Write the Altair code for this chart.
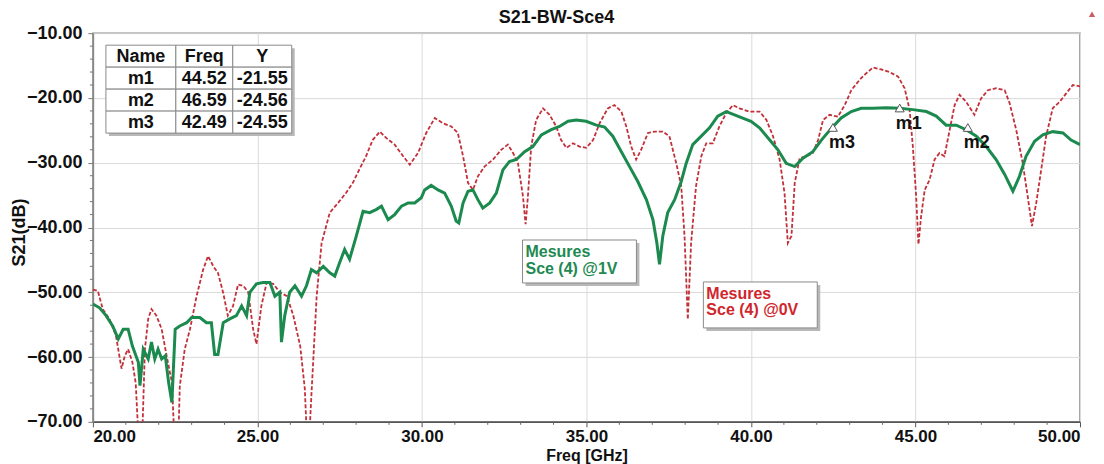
import altair as alt
import pandas as pd

# ---------------- data ----------------
red_freq = [20.0,20.15,20.3,20.5,20.7,20.87,20.97,21.07,21.2,21.3,21.38,21.5,21.58,21.68,21.78,21.93,22.09,22.24,22.4,22.47,22.6,22.64,22.79,22.95,23.15,23.35,23.5,23.66,23.8,23.96,24.1,24.26,24.41,24.57,24.72,24.87,24.97,25.12,25.28,25.48,25.68,25.9,26.09,26.3,26.44,26.5,26.58,26.64,26.8,26.95,27.2,27.45,27.7,27.9,28.1,28.3,28.5,28.72,28.92,29.17,29.43,29.63,29.88,30.13,30.39,30.64,30.89,31.09,31.25,31.4,31.55,31.7,31.9,32.16,32.41,32.61,32.77,32.92,33.07,33.15,33.22,33.32,33.47,33.68,33.88,34.08,34.23,34.39,34.59,34.79,34.99,35.2,35.4,35.65,35.85,36.06,36.21,36.36,36.51,36.66,36.87,37.07,37.32,37.52,37.73,37.88,37.98,38.08,38.18,38.33,38.49,38.64,38.84,39.04,39.24,39.45,39.65,39.95,40.26,40.47,40.67,40.87,41.02,41.12,41.23,41.33,41.48,41.68,41.88,42.04,42.19,42.39,42.64,42.85,43.05,43.3,43.5,43.71,43.96,44.21,44.47,44.67,44.82,44.92,45.02,45.09,45.17,45.28,45.43,45.58,45.73,45.88,46.04,46.19,46.34,46.54,46.79,46.99,47.2,47.45,47.71,47.86,48.06,48.26,48.41,48.54,48.67,48.82,48.97,49.17,49.38,49.58,49.78,50.0]
red_s21 = [-49.6,-49.8,-52.6,-54.1,-56.7,-61.8,-59.8,-58.8,-60.8,-64,-72,-72,-58.8,-54.1,-52.6,-53.6,-55.7,-59.8,-63.9,-72,-72,-64.5,-58.8,-55.7,-50.6,-46.5,-44.4,-46,-47,-50.1,-53.6,-52.1,-48.8,-49,-50,-55.7,-58,-52.1,-48.5,-48.7,-50.0,-50.6,-53.6,-58.3,-64.9,-72,-72,-65.9,-50.6,-42.4,-37.7,-36.2,-34.6,-33.1,-31,-29,-26.5,-25.2,-26.2,-27.2,-29,-30.3,-28.5,-25.4,-23.1,-23.9,-24.4,-25.4,-29,-33.1,-34.2,-32.1,-30.6,-29.5,-28,-27.2,-28.5,-30.1,-35.2,-39.5,-35.2,-27.5,-23.4,-21.6,-22.6,-24.4,-26.5,-27.7,-27,-27.5,-27.7,-26.5,-23.9,-21.6,-21.1,-22.1,-24.4,-27.5,-29.5,-28,-25.4,-25.2,-25.2,-25.9,-30.1,-33.6,-41.3,-54.2,-42.4,-33.6,-29,-27,-27,-24.4,-22.4,-21.1,-21.6,-22.1,-22.1,-23.4,-25.9,-29.5,-34.7,-42.4,-41.3,-33.1,-29.3,-29,-28.5,-26.5,-23.4,-22.6,-22.9,-21.1,-18.8,-17.2,-16.2,-15.3,-15.6,-16,-16.7,-18.5,-21.8,-27.5,-35.2,-42.6,-38.3,-34.2,-32.6,-29.5,-28.5,-29,-24.9,-21.1,-19.5,-20.6,-22.6,-20.1,-18.8,-18.5,-18.8,-20.8,-24.9,-30.1,-35.2,-39.8,-36.2,-31.1,-25.9,-21.6,-20.6,-19.3,-18,-18.2]

green_freq = [20.0,20.2,20.4,20.6,20.77,20.92,21.07,21.2,21.38,21.43,21.53,21.68,21.78,21.88,21.98,22.09,22.2,22.3,22.4,22.5,22.64,22.85,23.0,23.25,23.45,23.6,23.7,23.8,23.96,24.16,24.36,24.52,24.67,24.77,24.97,25.17,25.38,25.53,25.68,25.73,25.83,25.98,26.14,26.34,26.49,26.64,26.8,27.0,27.2,27.35,27.5,27.65,27.8,28.0,28.21,28.41,28.62,28.77,28.97,29.17,29.38,29.58,29.78,29.98,30.08,30.28,30.49,30.69,30.89,31.04,31.12,31.25,31.4,31.55,31.7,31.85,32.06,32.26,32.46,32.66,32.87,33.12,33.37,33.63,33.93,34.18,34.44,34.69,34.99,35.3,35.55,35.8,36.06,36.31,36.56,36.82,37.02,37.14,37.22,37.32,37.47,37.68,37.88,38.03,38.23,38.49,38.74,38.99,39.25,39.5,39.75,40.0,40.26,40.57,40.82,41.07,41.33,41.58,41.88,42.14,42.44,42.74,43.05,43.35,43.71,44.11,44.52,44.92,45.33,45.63,45.93,46.24,46.54,46.85,47.15,47.45,47.71,47.96,48.16,48.36,48.62,48.87,49.17,49.48,49.73,50.0]
green_s21 = [-51.8,-52.4,-53.6,-55.2,-57.2,-55.7,-55.7,-58.3,-60.8,-64.4,-58.8,-60.3,-57.7,-60.3,-58.8,-60.3,-59.8,-63.9,-67,-55.7,-55.2,-54.7,-53.9,-53.9,-54.7,-54.7,-59.6,-59.6,-54.7,-54.1,-53.6,-52.1,-53.6,-50,-48.7,-48.5,-48.5,-50.6,-50,-57.7,-53.6,-50,-49,-50.6,-49,-46.5,-47,-46,-47,-47.5,-45.4,-43.4,-44.9,-41.4,-37.5,-37.7,-37.2,-36.7,-38.8,-38,-36.7,-36.2,-36.2,-35.4,-34.2,-33.5,-34.2,-34.7,-36.7,-39,-39.3,-36.2,-34.4,-34.2,-35.7,-37,-36.2,-34.7,-31.1,-29.8,-29.5,-28.3,-27.5,-25.7,-24.9,-24.4,-23.6,-23.4,-23.6,-24.2,-24.5,-25.9,-28.3,-30.6,-32.9,-35.7,-38.8,-42.4,-45.7,-41.3,-37.7,-35.7,-32.9,-30.1,-27.2,-25.9,-24.6,-22.8,-22.1,-22.6,-23.1,-23.6,-24.6,-26.5,-28,-30.1,-30.6,-29.3,-28.3,-26.5,-24.7,-23.1,-22.1,-21.6,-21.6,-21.5,-21.6,-21.8,-22.1,-22.8,-24.2,-24.2,-24.9,-25.9,-27.5,-29.5,-31.8,-34.4,-32.1,-29,-26.7,-25.7,-25.2,-25.4,-26.5,-27.2]

marker_names = ["m1", "m2", "m3"]
marker_freq = [44.52, 46.59, 42.49]
marker_y = [-21.55, -24.56, -24.55]

table_header = ["Name", "Freq", "Y"]
x_major = [20, 25, 30, 35, 40, 45, 50]
y_major = [-10, -20, -30, -40, -50, -60, -70]
x_minor = [v for v in range(21, 50) if v % 5 != 0]
y_minor = [v for v in range(-68, -10, 2) if v % 10 != 0]

green_label = ["Mesures", "Sce (4) @1V"]
red_label = ["Mesures", "Sce (4) @0V"]
title_text = "S21-BW-Sce4"

# ---------------- styling ----------------
W, H = 988, 389
FONT = "Liberation Sans"
GREEN = "#1b8a4e"
RED = "#c3303a"
GREEN_TXT = "#1e8a52"
RED_TXT = "#d0262d"
GRIDC = "#dadada"

xs = alt.Scale(domain=[20, 50], nice=False, zero=False)
ys = alt.Scale(domain=[-70, -10], nice=False, zero=False)

red_df = pd.DataFrame({"f": red_freq, "v": red_s21})
green_df = pd.DataFrame({"f": green_freq, "v": green_s21})
mk_df = pd.DataFrame({"f": marker_freq, "v": marker_y, "name": marker_names})

x_axis = alt.Axis(values=x_major, format=".2f", grid=True, gridColor=GRIDC,
                  tickSize=5, tickColor="#555", domainColor="#555", domainWidth=1.5,
                  labelPadding=2, title="Freq [GHz]", titleY=26, titleBaseline="top",
                  titleX=W / 2, titleAnchor="middle", titleAlign="center",
                  labelFont=FONT, labelFontWeight="bold", labelFontSize=17, labelColor="#111",
                  titleFont=FONT, titleFontWeight="bold", titleFontSize=16, titleColor="#111")
y_axis = alt.Axis(values=y_major, format=".2f", grid=True, gridColor=GRIDC,
                  tickSize=5, tickColor="#777", domainColor="#888", domainWidth=1.5,
                  labelPadding=6, title="S21(dB)", titleX=-73, titleY=199,
                  titleAngle=270, titleBaseline="middle", titleAlign="center",
                  labelFont=FONT, labelFontWeight="bold", labelFontSize=18, labelColor="#111",
                  titleFont=FONT, titleFontWeight="bold", titleFontSize=18, titleColor="#111")

X = alt.X("f:Q", scale=xs, axis=x_axis)
Y = alt.Y("v:Q", scale=ys, axis=y_axis)

xminor = alt.Chart(pd.DataFrame({"f": x_minor})).mark_rule(color="#666", strokeWidth=1).encode(
    x=X, y=alt.value(H), y2=alt.value(H + 3))
yminor = alt.Chart(pd.DataFrame({"v": y_minor})).mark_rule(color="#777", strokeWidth=1).encode(
    y=Y, x=alt.value(-3), x2=alt.value(0))

red_line = alt.Chart(red_df).mark_line(color=RED, strokeWidth=1.8, strokeDash=[4, 2], clip=True).encode(
    x=X, y=Y, order="f:Q")
green_line = alt.Chart(green_df).mark_line(color=GREEN, strokeWidth=3, clip=True).encode(
    x=X, y=Y, order="f:Q")

mk_pts = alt.Chart(mk_df).mark_point(shape="triangle-up", size=80, filled=True, fill="white",
                                     stroke="#555", strokeWidth=1, opacity=1).encode(x=X, y=Y)
mk_txt = alt.Chart(mk_df).mark_text(align="left", baseline="middle", dx=-4, dy=16, font=FONT,
                                    fontWeight="bold", fontSize=18, color="#111").encode(
    x=X, y=Y, text="name:N")

# ---- marker table (pixel layout) ----
col_edges = [13, 83, 140, 199]
row_edges = [12, 34, 56, 78, 100]
rows = [table_header] + [[n, f"{f:.2f}", f"{y:.2f}"] for n, f, y in zip(marker_names, marker_freq, marker_y)]
cells = []
for r, row in enumerate(rows):
    for c, txt in enumerate(row):
        cells.append({"x": col_edges[c], "x2": col_edges[c + 1], "y": row_edges[r], "y2": row_edges[r + 1],
                      "cx": (col_edges[c] + col_edges[c + 1]) / 2, "cy": (row_edges[r] + row_edges[r + 1]) / 2 + 1,
                      "t": txt})
cell_df = pd.DataFrame(cells)

tab_shadow = alt.Chart(pd.DataFrame({"a": [0]})).mark_rect(color="#b8b8b8").encode(
    x=alt.value(col_edges[0] + 3), x2=alt.value(col_edges[-1] + 3),
    y=alt.value(row_edges[0] + 3), y2=alt.value(row_edges[-1] + 3))
tab_cells = alt.Chart(cell_df).mark_rect(fill="white", stroke="#8a8a8a", strokeWidth=1).encode(
    x=alt.X("x:Q", scale=None), x2="x2:Q",
    y=alt.Y("y:Q", scale=None), y2="y2:Q")
tab_text = alt.Chart(cell_df).mark_text(font=FONT, fontWeight="bold", fontSize=18, color="#111",
                                        baseline="middle", align="center").encode(
    x=alt.X("cx:Q", scale=None), y=alt.Y("cy:Q", scale=None), text="t:N")

# ---- series label boxes ----
def label_box(lines, color, x0, x1, y0, y1, ty):
    shadow = alt.Chart(pd.DataFrame({"a": [0]})).mark_rect(color="#b8b8b8").encode(
        x=alt.value(x0 + 3), x2=alt.value(x1 + 3), y=alt.value(y0 + 3), y2=alt.value(y1 + 3))
    box = alt.Chart(pd.DataFrame({"a": [0]})).mark_rect(fill="white", stroke="#8a8a8a", strokeWidth=1).encode(
        x=alt.value(x0), x2=alt.value(x1), y=alt.value(y0), y2=alt.value(y1))
    tdf = pd.DataFrame({"t": lines, "yy": ty})
    txt = alt.Chart(tdf).mark_text(font=FONT, fontWeight="bold", fontSize=16, color=color,
                                   align="left", baseline="middle").encode(
        x=alt.value(x0 + 3), y=alt.Y("yy:Q", scale=None), text="t:N")
    return shadow + box + txt

green_box = label_box(green_label, GREEN_TXT, 430, 544, 207, 250, [219.5, 236])
red_box = label_box(red_label, RED_TXT, 611, 725, 249, 295, [261, 277.5])

title = alt.Chart(pd.DataFrame({"t": [title_text]})).mark_text(
    font=FONT, fontWeight="bold", fontSize=18, color="#111", align="center", baseline="middle").encode(
    x=alt.value(464), y=alt.value(-15), text="t:N")
icon = alt.Chart(pd.DataFrame({"a": [0]})).mark_point(shape="triangle-up", filled=True, size=40,
                                                      color="#c0404a", opacity=0.85).encode(
    x=alt.value(1000), y=alt.value(-19))

chart = alt.layer(
    xminor, yminor, red_line, green_line, mk_pts, mk_txt,
    tab_shadow, tab_cells, tab_text, green_box, red_box, title, icon
).properties(
    width=W, height=H,
    background="white",
    autosize=alt.AutoSizeParams(type="none"),
    padding={"left": 85, "top": 25, "right": 16, "bottom": 42},
).configure_view(
    stroke="#888", strokeWidth=1.5
).configure_axis(
    gridWidth=1,
)

chart.save("out.html", embed_options={"renderer": "svg", "actions": False})
